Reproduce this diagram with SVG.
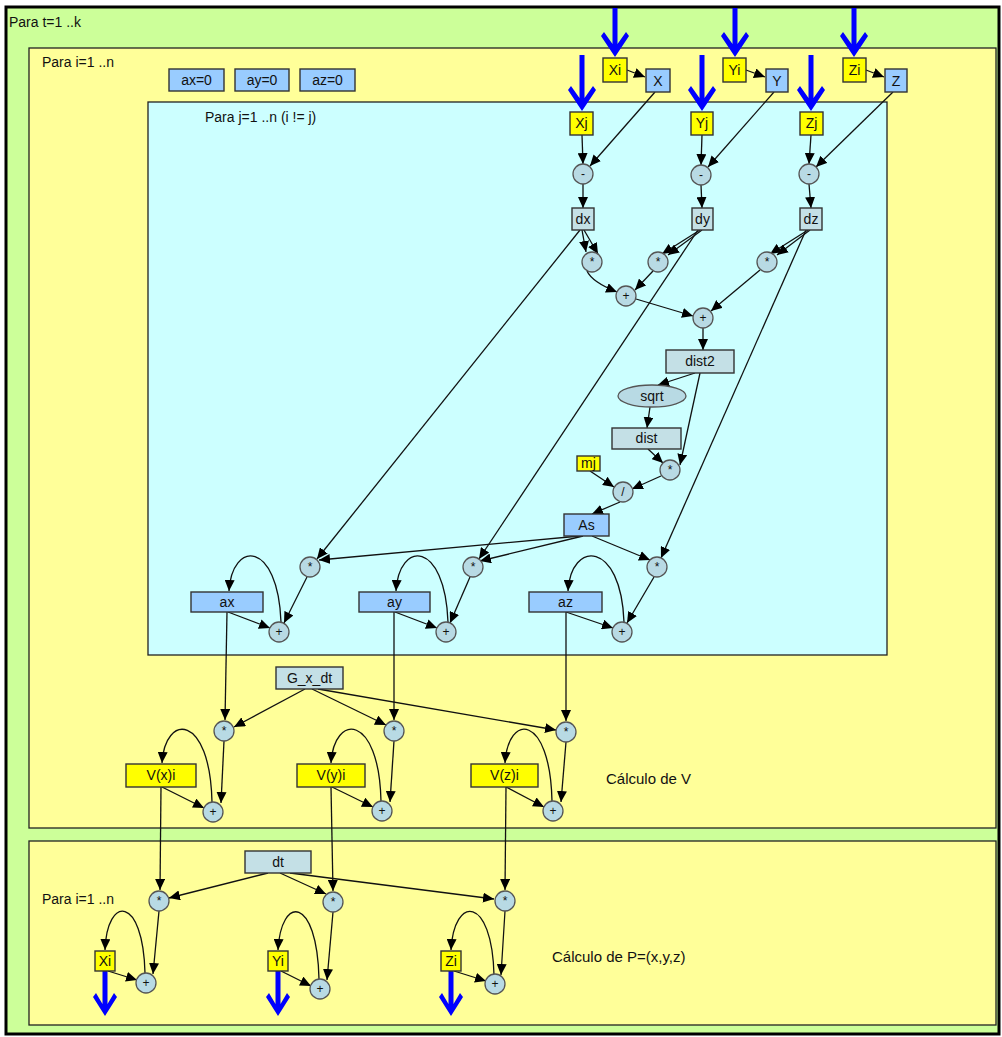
<svg xmlns="http://www.w3.org/2000/svg" width="1002" height="1037" viewBox="0 0 1002 1037">
<style>
text{font-family:"Liberation Sans",Arial,sans-serif;fill:#111}
.lbl{font-size:14px;text-anchor:middle}
.frm{font-size:14px}
.cal{font-size:15px}
.op{font-size:12px;text-anchor:middle}
.blue{fill:#99ccff;stroke:#333;stroke-width:1.4}
.yel{fill:#ffff00;stroke:#333;stroke-width:1.4}
.gry{fill:#c4e0e6;stroke:#333;stroke-width:1.4}
.cir{fill:#b8dae4;stroke:#555;stroke-width:1.3}
.e{fill:none;stroke:#111;stroke-width:1.3;marker-end:url(#ah)}
.ba{fill:#0000ff}
</style>
<defs>
<marker id="ah" markerUnits="userSpaceOnUse" markerWidth="12" markerHeight="10" refX="11" refY="5" orient="auto">
<path d="M0,0 L11,5 L0,10 z" fill="#000"/>
</marker>
</defs>
<rect x="6" y="7" width="993" height="1027" fill="#ccff99" stroke="#000" stroke-width="3"/>
<text class="frm" x="9" y="27">Para t=1 ..k</text>
<rect x="29" y="48" width="967" height="780" fill="#ffff99" stroke="#222" stroke-width="1.3"/>
<text class="frm" x="42" y="67">Para i=1 ..n</text>
<rect x="148" y="102" width="739" height="553" fill="#ccffff" stroke="#222" stroke-width="1.3"/>
<text class="frm" x="205" y="122">Para j=1 ..n (i != j)</text>
<rect x="29" y="841" width="967" height="184" fill="#ffff99" stroke="#222" stroke-width="1.3"/>
<text class="frm" x="42" y="904">Para i=1 ..n</text>
<text class="cal" x="606" y="784">Cálculo de V</text>
<text class="cal" x="552" y="962">Cálculo de P=(x,y,z)</text>

<g id="connectors">
<path class="e" d="M627,70 L645,77"/>
<path class="e" d="M746,70 L765,77"/>
<path class="e" d="M866,70 L884,77"/>
<path class="e" d="M655,92 L590,166"/>
<path class="e" d="M774,92 L708,167"/>
<path class="e" d="M893,92 L816,167"/>
<path class="e" d="M582,135 L583,164"/>
<path class="e" d="M702,135 L701,165"/>
<path class="e" d="M811,135 L809,164"/>
<path class="e" d="M583,184 L583,208"/>
<path class="e" d="M701,185 L702,208"/>
<path class="e" d="M809,184 L811,208"/>
<path class="e" d="M582,230 L586,252"/>
<path class="e" d="M584,230 L598,254"/>
<path class="e" d="M700,230 L662,254"/>
<path class="e" d="M702,230 L668,255"/>
<path class="e" d="M808,230 L770,254"/>
<path class="e" d="M810,230 L777,255"/>
<path class="e" d="M587,271 Q592,282 617,292"/>
<path class="e" d="M653,271 L635,290"/>
<path class="e" d="M636,299 L693,316"/>
<path class="e" d="M760,270 L711,311"/>
<path class="e" d="M703,328 L703,350"/>
<path class="e" d="M695,373 L658,385"/>
<path class="e" d="M700,373 L680,465"/>
<path class="e" d="M650,407 L647,428"/>
<path class="e" d="M648,449 L663,463"/>
<path class="e" d="M590,471 L614,487"/>
<path class="e" d="M661,476 L632,489"/>
<path class="e" d="M620,502 L592,514"/>
<path class="e" d="M580,230 L317,559"/>
<path class="e" d="M698,230 L479,559"/>
<path class="e" d="M806,230 L661,558"/>
<path class="e" d="M580,536 L319,560"/>
<path class="e" d="M583,536 L480,561"/>
<path class="e" d="M592,536 L650,560"/>
<path class="e" d="M307,577 L284,623"/>
<path class="e" d="M470,577 L450,623"/>
<path class="e" d="M654,577 L627,623"/>
<path class="e" d="M228,612 L270,628"/>
<path class="e" d="M395,612 L437,628"/>
<path class="e" d="M566,612 L613,628"/>
<path class="e" d="M281,622 C278,540 232,540 229,591"/>
<path class="e" d="M448,622 C445,540 399,540 396,591"/>
<path class="e" d="M624,622 C621,540 571,540 568,591"/>
<path class="e" d="M227,612 L225,720"/>
<path class="e" d="M394,612 L394,720"/>
<path class="e" d="M566,612 L566,721"/>
<path class="e" d="M305,689 L234,727"/>
<path class="e" d="M312,689 L386,725"/>
<path class="e" d="M318,689 L556,730"/>
<path class="e" d="M224,741 L221,803"/>
<path class="e" d="M394,741 L390,802"/>
<path class="e" d="M566,742 L561,802"/>
<path class="e" d="M162,787 L204,808"/>
<path class="e" d="M332,787 L373,807"/>
<path class="e" d="M506,787 L544,807"/>
<path class="e" d="M212,802 C210,713 165,713 162,763"/>
<path class="e" d="M381,801 C379,713 334,713 331,763"/>
<path class="e" d="M552,801 C550,713 508,713 505,763"/>
<path class="e" d="M161,787 L160,890"/>
<path class="e" d="M331,787 L333,891"/>
<path class="e" d="M506,787 L505,890"/>
<path class="e" d="M268,873 L169,898"/>
<path class="e" d="M280,873 L326,894"/>
<path class="e" d="M290,873 L494,899"/>
<path class="e" d="M159,911 L153,974"/>
<path class="e" d="M333,912 L327,980"/>
<path class="e" d="M505,911 L501,975"/>
<path class="e" d="M108,971 L137,980"/>
<path class="e" d="M281,971 L311,986"/>
<path class="e" d="M454,971 L486,981"/>
<path class="e" d="M145,973 C143,895 107,895 105,950"/>
<path class="e" d="M319,979 C317,895 281,895 278,950"/>
<path class="e" d="M494,975 C492,895 454,895 451,950"/>
</g>

<g id="blue-arrows">
<path class="ba" d="M615,57 L601,36 L604,32 L612.5,44 L612.5,8 L617.5,8 L617.5,44 L626,32 L629,36 Z"/>
<path class="ba" d="M735,57 L721,36 L724,32 L732.5,44 L732.5,8 L737.5,8 L737.5,44 L746,32 L749,36 Z"/>
<path class="ba" d="M854,57 L840,36 L843,32 L851.5,44 L851.5,8 L856.5,8 L856.5,44 L865,32 L868,36 Z"/>
<path class="ba" d="M582,111 L568,90 L571,86 L579.5,98 L579.5,55 L584.5,55 L584.5,98 L593,86 L596,90 Z"/>
<path class="ba" d="M702,111 L688,90 L691,86 L699.5,98 L699.5,55 L704.5,55 L704.5,98 L713,86 L716,90 Z"/>
<path class="ba" d="M811,111 L797,90 L800,86 L808.5,98 L808.5,55 L813.5,55 L813.5,98 L822,86 L825,90 Z"/>
<path class="ba" d="M105,1016 L93,997 L96,993 L102.5,1004 L102.5,971 L107.5,971 L107.5,1004 L114,993 L117,997 Z"/>
<path class="ba" d="M278,1016 L266,997 L269,993 L275.5,1004 L275.5,971 L280.5,971 L280.5,1004 L287,993 L290,997 Z"/>
<path class="ba" d="M451,1016 L439,997 L442,993 L448.5,1004 L448.5,971 L453.5,971 L453.5,1004 L460,993 L463,997 Z"/>
</g>

<g id="ax0"><rect class="blue" x="169" y="69" width="55" height="22"/><text class="lbl" x="196.5" y="85">ax=0</text></g>
<g id="ay0"><rect class="blue" x="235" y="69" width="54" height="22"/><text class="lbl" x="262" y="85">ay=0</text></g>
<g id="az0"><rect class="blue" x="300" y="69" width="55" height="22"/><text class="lbl" x="327.5" y="85">az=0</text></g>

<g id="Xi_top"><rect class="yel" x="603" y="58" width="24" height="24"/><text class="lbl" x="615" y="75">Xi</text></g>
<g id="X"><rect class="blue" x="646" y="69" width="24" height="23"/><text class="lbl" x="658" y="86">X</text></g>
<g id="Yi_top"><rect class="yel" x="723" y="58" width="23" height="24"/><text class="lbl" x="734.5" y="75">Yi</text></g>
<g id="Y"><rect class="blue" x="766" y="69" width="22" height="23"/><text class="lbl" x="777" y="86">Y</text></g>
<g id="Zi_top"><rect class="yel" x="843" y="58" width="23" height="24"/><text class="lbl" x="854.5" y="75">Zi</text></g>
<g id="Z"><rect class="blue" x="885" y="69" width="22" height="23"/><text class="lbl" x="896" y="86">Z</text></g>

<g id="Xj"><rect class="yel" x="570" y="112" width="23" height="23"/><text class="lbl" x="581.5" y="128">Xj</text></g>
<g id="Yj"><rect class="yel" x="691" y="112" width="22" height="23"/><text class="lbl" x="702" y="128">Yj</text></g>
<g id="Zj"><rect class="yel" x="800" y="112" width="23" height="23"/><text class="lbl" x="811.5" y="128">Zj</text></g>

<g id="minus1"><circle class="cir" cx="583" cy="174" r="10"/><text class="op" x="583" y="178">-</text></g>
<g id="minus2"><circle class="cir" cx="701" cy="175" r="10"/><text class="op" x="701" y="179">-</text></g>
<g id="minus3"><circle class="cir" cx="809" cy="174" r="10"/><text class="op" x="809" y="178">-</text></g>

<g id="dx"><rect class="gry" x="572" y="208" width="22" height="22"/><text class="lbl" x="583" y="224">dx</text></g>
<g id="dy"><rect class="gry" x="692" y="208" width="21" height="22"/><text class="lbl" x="702.5" y="224">dy</text></g>
<g id="dz"><rect class="gry" x="800" y="208" width="22" height="22"/><text class="lbl" x="811" y="224">dz</text></g>

<g id="mul_dx"><circle class="cir" cx="592" cy="262" r="10"/><text class="op" x="592" y="266">*</text></g>
<g id="mul_dy"><circle class="cir" cx="658" cy="262" r="10"/><text class="op" x="658" y="266">*</text></g>
<g id="mul_dz"><circle class="cir" cx="767" cy="262" r="10"/><text class="op" x="767" y="266">*</text></g>
<g id="add1"><circle class="cir" cx="626" cy="296" r="10"/><text class="op" x="626" y="300">+</text></g>
<g id="add2"><circle class="cir" cx="703" cy="318" r="10"/><text class="op" x="703" y="322">+</text></g>

<g id="dist2"><rect class="gry" x="666" y="350" width="68" height="23"/><text class="lbl" x="700" y="366">dist2</text></g>
<g id="sqrt"><ellipse class="cir" cx="652" cy="396" rx="34" ry="11"/><text class="lbl" x="652" y="401">sqrt</text></g>
<g id="dist"><rect class="gry" x="612" y="428" width="69" height="21"/><text class="lbl" x="646.5" y="443">dist</text></g>
<g id="mul_dist"><circle class="cir" cx="670" cy="470" r="10"/><text class="op" x="670" y="474">*</text></g>
<g id="mj"><rect class="yel" x="577" y="456" width="23" height="15"/><text class="lbl" x="588.5" y="468">mj</text></g>
<g id="div"><circle class="cir" cx="623" cy="492" r="10"/><text class="op" x="623" y="496">/</text></g>
<g id="As"><rect class="blue" x="564" y="514" width="45" height="22"/><text class="lbl" x="586.5" y="530">As</text></g>

<g id="mul_ax"><circle class="cir" cx="310" cy="567" r="10"/><text class="op" x="310" y="571">*</text></g>
<g id="mul_ay"><circle class="cir" cx="473" cy="567" r="10"/><text class="op" x="473" y="571">*</text></g>
<g id="mul_az"><circle class="cir" cx="657" cy="567" r="10"/><text class="op" x="657" y="571">*</text></g>
<g id="ax"><rect class="blue" x="191" y="592" width="72" height="20"/><text class="lbl" x="227" y="607">ax</text></g>
<g id="ay"><rect class="blue" x="359" y="592" width="71" height="20"/><text class="lbl" x="394.5" y="607">ay</text></g>
<g id="az"><rect class="blue" x="529" y="592" width="73" height="20"/><text class="lbl" x="565.5" y="607">az</text></g>
<g id="add_ax"><circle class="cir" cx="279" cy="632" r="10"/><text class="op" x="279" y="636">+</text></g>
<g id="add_ay"><circle class="cir" cx="446" cy="632" r="10"/><text class="op" x="446" y="636">+</text></g>
<g id="add_az"><circle class="cir" cx="622" cy="632" r="10"/><text class="op" x="622" y="636">+</text></g>

<g id="G_x_dt"><rect class="gry" x="276" y="667" width="67" height="22"/><text class="lbl" x="309.5" y="683">G_x_dt</text></g>
<g id="mul_vx"><circle class="cir" cx="224" cy="731" r="10"/><text class="op" x="224" y="735">*</text></g>
<g id="mul_vy"><circle class="cir" cx="394" cy="731" r="10"/><text class="op" x="394" y="735">*</text></g>
<g id="mul_vz"><circle class="cir" cx="566" cy="732" r="10"/><text class="op" x="566" y="736">*</text></g>
<g id="Vxi"><rect class="yel" x="126" y="764" width="70" height="23"/><text class="lbl" x="161" y="780">V(x)i</text></g>
<g id="Vyi"><rect class="yel" x="297" y="764" width="68" height="23"/><text class="lbl" x="331" y="780">V(y)i</text></g>
<g id="Vzi"><rect class="yel" x="471" y="764" width="67" height="23"/><text class="lbl" x="504.5" y="780">V(z)i</text></g>
<g id="add_vx"><circle class="cir" cx="213" cy="812" r="10"/><text class="op" x="213" y="816">+</text></g>
<g id="add_vy"><circle class="cir" cx="382" cy="811" r="10"/><text class="op" x="382" y="815">+</text></g>
<g id="add_vz"><circle class="cir" cx="553" cy="811" r="10"/><text class="op" x="553" y="815">+</text></g>

<g id="dt"><rect class="gry" x="245" y="851" width="66" height="22"/><text class="lbl" x="278" y="867">dt</text></g>
<g id="mul_px"><circle class="cir" cx="159" cy="901" r="10"/><text class="op" x="159" y="905">*</text></g>
<g id="mul_py"><circle class="cir" cx="333" cy="902" r="10"/><text class="op" x="333" y="906">*</text></g>
<g id="mul_pz"><circle class="cir" cx="505" cy="901" r="10"/><text class="op" x="505" y="905">*</text></g>
<g id="Xi_bot"><rect class="yel" x="95" y="951" width="20" height="20"/><text class="lbl" x="105" y="966">Xi</text></g>
<g id="Yi_bot"><rect class="yel" x="268" y="951" width="20" height="20"/><text class="lbl" x="278" y="966">Yi</text></g>
<g id="Zi_bot"><rect class="yel" x="441" y="951" width="20" height="20"/><text class="lbl" x="451" y="966">Zi</text></g>
<g id="add_px"><circle class="cir" cx="146" cy="983" r="10"/><text class="op" x="146" y="987">+</text></g>
<g id="add_py"><circle class="cir" cx="320" cy="989" r="10"/><text class="op" x="320" y="993">+</text></g>
<g id="add_pz"><circle class="cir" cx="495" cy="984" r="10"/><text class="op" x="495" y="988">+</text></g>
</svg>
